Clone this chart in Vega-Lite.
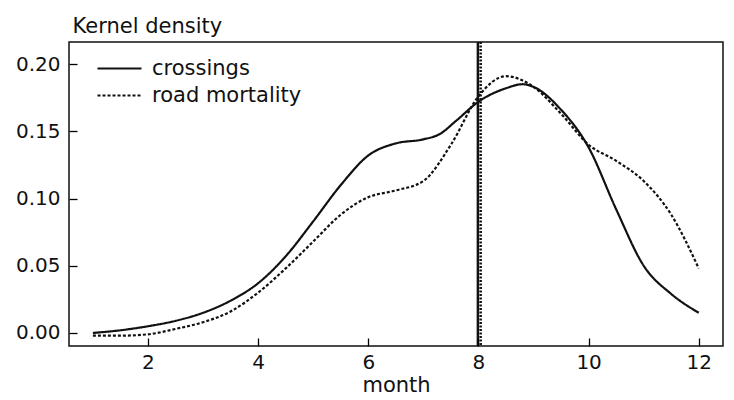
{
  "$schema": "https://vega.github.io/schema/vega-lite/v6.json",
  "width": 654,
  "height": 304,
  "autosize": {"type": "none"},
  "padding": {"left": 69, "top": 42, "right": 11, "bottom": 54},
  "background": "white",
  "config": {
    "view": {"stroke": "#111", "strokeWidth": 1.5},
    "font": "DejaVu Sans",
    "axis": {
      "domain": false,
      "grid": false,
      "labelFont": "DejaVu Sans",
      "labelFontSize": 20,
      "labelColor": "#111",
      "titleFont": "DejaVu Sans",
      "titleFontSize": 21,
      "titleFontWeight": "normal",
      "titleColor": "#111"
    }
  },
  "layer": [
    {
      "data": {
        "values": [
          {"month": 1.0, "density": 0.000, "series": "crossings"},
          {"month": 1.5, "density": 0.002, "series": "crossings"},
          {"month": 2.0, "density": 0.005, "series": "crossings"},
          {"month": 2.5, "density": 0.009, "series": "crossings"},
          {"month": 3.0, "density": 0.015, "series": "crossings"},
          {"month": 3.5, "density": 0.024, "series": "crossings"},
          {"month": 4.0, "density": 0.037, "series": "crossings"},
          {"month": 4.5, "density": 0.057, "series": "crossings"},
          {"month": 5.0, "density": 0.083, "series": "crossings"},
          {"month": 5.5, "density": 0.110, "series": "crossings"},
          {"month": 6.0, "density": 0.132, "series": "crossings"},
          {"month": 6.5, "density": 0.141, "series": "crossings"},
          {"month": 7.0, "density": 0.144, "series": "crossings"},
          {"month": 7.3, "density": 0.148, "series": "crossings"},
          {"month": 7.6, "density": 0.158, "series": "crossings"},
          {"month": 8.0, "density": 0.172, "series": "crossings"},
          {"month": 8.5, "density": 0.182, "series": "crossings"},
          {"month": 8.8, "density": 0.185, "series": "crossings"},
          {"month": 9.0, "density": 0.183, "series": "crossings"},
          {"month": 9.5, "density": 0.166, "series": "crossings"},
          {"month": 10.0, "density": 0.138, "series": "crossings"},
          {"month": 10.5, "density": 0.092, "series": "crossings"},
          {"month": 11.0, "density": 0.050, "series": "crossings"},
          {"month": 11.5, "density": 0.029, "series": "crossings"},
          {"month": 12.0, "density": 0.015, "series": "crossings"},
          {"month": 1.0, "density": -0.002, "series": "road mortality"},
          {"month": 1.5, "density": -0.002, "series": "road mortality"},
          {"month": 2.0, "density": -0.001, "series": "road mortality"},
          {"month": 2.5, "density": 0.003, "series": "road mortality"},
          {"month": 3.0, "density": 0.008, "series": "road mortality"},
          {"month": 3.5, "density": 0.016, "series": "road mortality"},
          {"month": 4.0, "density": 0.030, "series": "road mortality"},
          {"month": 4.5, "density": 0.048, "series": "road mortality"},
          {"month": 5.0, "density": 0.068, "series": "road mortality"},
          {"month": 5.5, "density": 0.088, "series": "road mortality"},
          {"month": 6.0, "density": 0.101, "series": "road mortality"},
          {"month": 6.5, "density": 0.106, "series": "road mortality"},
          {"month": 7.0, "density": 0.113, "series": "road mortality"},
          {"month": 7.5, "density": 0.140, "series": "road mortality"},
          {"month": 8.0, "density": 0.176, "series": "road mortality"},
          {"month": 8.5, "density": 0.191, "series": "road mortality"},
          {"month": 9.0, "density": 0.183, "series": "road mortality"},
          {"month": 9.5, "density": 0.163, "series": "road mortality"},
          {"month": 10.0, "density": 0.140, "series": "road mortality"},
          {"month": 10.5, "density": 0.128, "series": "road mortality"},
          {"month": 11.0, "density": 0.113, "series": "road mortality"},
          {"month": 11.5, "density": 0.088, "series": "road mortality"},
          {"month": 12.0, "density": 0.048, "series": "road mortality"}
        ]
      },
      "mark": {"type": "line", "interpolate": "monotone", "color": "#111", "strokeWidth": 2.2},
      "encoding": {
        "x": {
          "field": "month",
          "type": "quantitative",
          "scale": {"domain": [0.566, 12.44], "nice": false, "zero": false},
          "axis": {
            "values": [2, 4, 6, 8, 10, 12],
            "format": "d",
            "title": "month",
            "ticks": true,
            "tickSize": 8,
            "tickColor": "black",
            "tickWidth": 1.3,
            "tickOpacity": 1,
            "offset": -8,
            "zindex": 1,
            "labelPadding": 6,
            "titlePadding": 2
          }
        },
        "y": {
          "field": "density",
          "type": "quantitative",
          "scale": {"domain": [-0.0097, 0.2164], "nice": false, "zero": false},
          "axis": {
            "values": [0, 0.05, 0.1, 0.15, 0.2],
            "format": ".2f",
            "ticks": true,
            "tickSize": 8,
            "tickColor": "black",
            "tickWidth": 1.3,
            "tickOpacity": 1,
            "offset": -8,
            "zindex": 1,
            "labelPadding": 9,
            "title": "Kernel density",
            "titleAngle": 0,
            "titleAlign": "left",
            "titleBaseline": "alphabetic",
            "titleX": -5,
            "titleY": -10
          }
        },
        "strokeDash": {
          "field": "series",
          "type": "nominal",
          "scale": {"domain": ["crossings", "road mortality"], "range": [[1, 0], [3, 2]]},
          "legend": {
            "title": null,
            "orient": "none",
            "legendX": 27,
            "legendY": 13,
            "symbolType": "stroke",
            "symbolSize": 1936,
            "symbolStrokeWidth": 2.2,
            "symbolStrokeColor": "#111",
            "labelFont": "DejaVu Sans",
            "labelFontSize": 21,
            "labelColor": "#111",
            "labelOffset": 9,
            "clipHeight": 27,
            "rowPadding": 0
          }
        }
      }
    },
    {
      "data": {"values": [{"month": 7.99}]},
      "mark": {"type": "rule", "color": "#111", "strokeWidth": 2.5},
      "encoding": {"x": {"field": "month", "type": "quantitative"}}
    },
    {
      "data": {"values": [{"month": 8.04}]},
      "mark": {"type": "rule", "color": "#111", "strokeWidth": 2.5, "strokeDash": [2, 1.5]},
      "encoding": {"x": {"field": "month", "type": "quantitative"}}
    }
  ]
}
